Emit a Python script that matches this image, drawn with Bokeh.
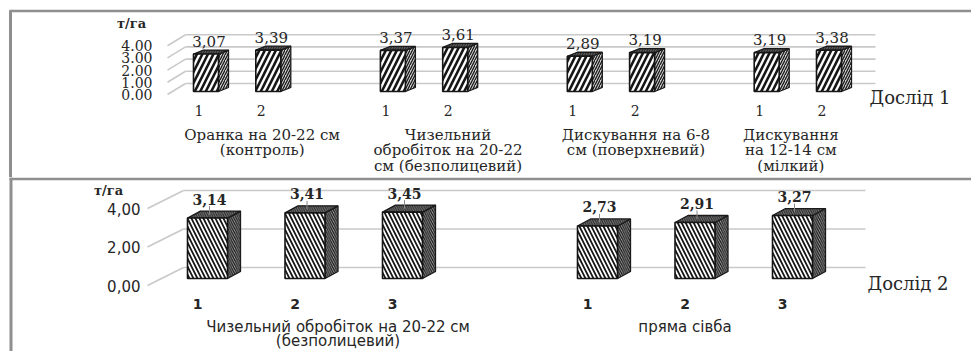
from bokeh.plotting import figure
from bokeh.layouts import column
from bokeh.models import Range1d
from bokeh.core.properties import value
from bokeh.embed import file_html
from bokeh.resources import INLINE

# ---------------- data ----------------
top_unit = "т/га"
top_categories = ["Оранка на 20-22 см\n(контроль)",
                  "Чизельний\nобробіток на 20-22\nсм (безполицевий)",
                  "Дискування на 6-8\nсм (поверхневий)",
                  "Дискування\nна 12-14 см\n(мілкий)"]
top_variants = ["1", "2"]
top_values = [3.07, 3.39, 3.37, 3.61, 2.89, 3.19, 3.19, 3.38]
top_ticks = [0, 1, 2, 3, 4]
top_tick_labels = ["0.00", "1.00", "2.00", "3.00", "4.00"]
top_series_name = "Дослід 1"

bot_unit = "т/га"
bot_categories = ["Чизельний обробіток на 20-22 см\n(безполицевий)", "пряма сівба"]
bot_variants = ["1", "2", "3"]
bot_values = [3.14, 3.41, 3.45, 2.73, 2.91, 3.27]
bot_ticks = [0, 2, 4]
bot_tick_labels = ["0,00", "2,00", "4,00"]
bot_series_name = "Дослід 2"

# ---------------- layout helpers ----------------
W = 971
BORDER = "#8f8f8f"
GRID = "#c9c9c9"
TXT = "#262626"


def fmt(v):
    return f"{v:.2f}".replace(".", ",")


class Panel:
    def __init__(self, H, x0, slot, base, unit):
        self.H, self.x0, self.slot, self.base, self.unit = H, x0, slot, base, unit
        self.p = figure(width=W, height=H,
                        x_range=Range1d(-x0 / slot, (W - x0) / slot),
                        y_range=Range1d(-(H - base) / unit, base / unit),
                        output_backend="svg", toolbar_location=None,
                        x_axis_location=None, y_axis_location=None,
                        min_border=0, title=None,
                        background_fill_color="white", border_fill_color="white",
                        outline_line_color=None)
        self.p.grid.visible = False

    def X(self, px):
        return (px - self.x0) / self.slot

    def Y(self, py):
        return (self.base - py) / self.unit

    def dx(self, px):
        return px / self.slot

    def dy(self, px):
        return px / self.unit


def draw(pn, positions, vals, ticks, tick_labels, variants, categories, ngroup,
         g_off, cfg):
    p = pn.p
    # back wall gridlines + diagonal floor lines
    back = [t + pn.dy(cfg["back_dy"]) for t in ticks]
    p.segment(x0=[pn.X(cfg["grid_x0"])] * len(back), x1=[pn.X(cfg["grid_x1"])] * len(back),
              y0=back, y1=back, line_color=GRID, line_width=1.6)
    lab_y = [b - pn.dy(cfg["diag_dy"]) for b in back]
    p.segment(x0=[pn.X(cfg["diag_x0"])] * len(back), x1=[pn.X(cfg["grid_x0"])] * len(back),
              y0=lab_y, y1=back, line_color=GRID, line_width=1.6)
    p.text(x=[pn.X(cfg["tick_x"])] * len(ticks), y=lab_y, text=tick_labels,
           text_align="right", text_baseline="middle", text_color=TXT,
           text_font=value(cfg["tick_font"]), text_font_size=cfg["tick_size"],
           text_font_style=cfg["tick_style"])
    p.text(x=[pn.X(cfg["unit_x"])], y=[pn.Y(cfg["unit_y"])], text=[cfg["unit"]],
           text_align="center", text_baseline="middle", text_color=TXT,
           text_font=value(cfg["unit_font"]), text_font_size=cfg["unit_size"],
           text_font_style="bold")

    # 3D bars
    w = pn.dx(cfg["bar_w"])
    ddx, ddy = pn.dx(cfg["depth_dx"]), pn.dy(cfg["depth_dy"])
    L = [x - w / 2 for x in positions]
    R = [x + w / 2 for x in positions]
    p.patches(xs=[[r, r + ddx, r + ddx, r] for r in R],
              ys=[[0, ddy, v + ddy, v] for v in vals],
              fill_color=cfg["side_fill"], hatch_pattern=cfg["side_hatch"],
              hatch_color="#1a1a1a", hatch_scale=cfg["side_hs"], hatch_weight=cfg["side_hw"],
              line_color="#1a1a1a", line_width=1.3)
    p.patches(xs=[[l, l + ddx, r + ddx, r] for l, r in zip(L, R)],
              ys=[[v, v + ddy, v + ddy, v] for v in vals],
              fill_color=cfg["top_fill"], hatch_pattern=cfg["side_hatch"],
              hatch_color="#222222", hatch_scale=cfg["side_hs"], hatch_weight=1,
              line_color="#1a1a1a", line_width=1.3)
    p.quad(left=L, right=R, bottom=0, top=vals, fill_color="white",
           hatch_pattern=cfg["front_hatch"], hatch_color="#161616",
           hatch_scale=cfg["front_hs"], hatch_weight=cfg["front_hw"],
           line_color="#161616", line_width=1.6)

    # value labels
    vx = [x + pn.dx(cfg["val_dx"]) for x in positions]
    if cfg.get("leader"):
        p.segment(x0=vx, x1=vx, y0=[v + ddy * 0.5 for v in vals],
                  y1=[v + pn.dy(cfg["val_dy"] - 7) for v in vals],
                  line_color="#8a8a8a", line_width=1)
    p.text(x=vx, y=[v + pn.dy(cfg["val_dy"]) for v in vals], text=[fmt(v) for v in vals],
           text_align="center", text_baseline="middle", text_color=TXT,
           text_font=value(cfg["val_font"]), text_font_size=cfg["val_size"],
           text_font_style=cfg["val_style"])

    # variant numbers
    nv = len(variants)
    p.text(x=[x + pn.dx(cfg["var_dx"]) for x in positions], y=[pn.Y(cfg["var_y"])] * len(positions),
           text=variants * ngroup, text_align="center", text_baseline="middle", text_color=TXT,
           text_font=value(cfg["var_font"]), text_font_size=cfg["var_size"],
           text_font_style=cfg["var_style"])

    # group (category) labels
    centers = [sum(positions[g * nv:(g + 1) * nv]) / nv for g in range(ngroup)]
    p.text(x=[c + pn.dx(o) for c, o in zip(centers, g_off)], y=[pn.Y(cfg["grp_y"])] * ngroup,
           text=categories, text_align="center", text_baseline="top", text_color=TXT,
           text_font=value(cfg["grp_font"]), text_font_size=cfg["grp_size"],
           text_line_height=cfg["grp_lh"])

    # series name
    p.text(x=[pn.X(cfg["name_x"])], y=[pn.Y(cfg["name_y"])], text=[cfg["name"]],
           text_align="left", text_baseline="middle", text_color=TXT,
           text_font=value("DejaVu Serif"), text_font_size="18px")


# ---------------- top panel ----------------
top = Panel(H=177, x0=205.5, slot=62.3, base=91, unit=12.2)
top_pos = [3 * g + j for g in range(len(top_categories)) for j in range(len(top_variants))]
draw(top, top_pos, top_values, top_ticks, top_tick_labels, top_variants, top_categories,
     len(top_categories), [25, 24, 25, -7],
     dict(back_dy=8, grid_x0=185, grid_x1=875, diag_x0=167, diag_dy=11, tick_x=152,
          tick_font="DejaVu Serif", tick_size="14px", tick_style="normal",
          unit=top_unit, unit_x=131, unit_y=23, unit_font="DejaVu Serif", unit_size="13px",
          bar_w=25, depth_dx=10, depth_dy=4,
          side_fill="#d0d0d0", side_hatch="/", side_hs=5, side_hw=1.3, top_fill="#5a5a5a",
          front_hatch="/", front_hs=11, front_hw=2.6,
          val_dx=3, val_dy=13, val_font="DejaVu Serif", val_size="15px", val_style="normal",
          var_dx=-7, var_y=110, var_font="DejaVu Serif", var_size="14px", var_style="normal",
          grp_y=125, grp_font="DejaVu Serif", grp_size="15px", grp_lh=0.88,
          name=top_series_name, name_x=869, name_y=97))
tp = top.p
tp.segment(x0=[top.X(10)], x1=[top.X(10)], y0=[top.Y(10)], y1=[top.Y(177)], line_color=BORDER, line_width=3)
tp.segment(x0=[top.X(9)], x1=[top.X(971)], y0=[top.Y(10.5)], y1=[top.Y(10.5)], line_color=BORDER, line_width=2.6)

# ---------------- bottom panel ----------------
bot = Panel(H=174, x0=207, slot=97.5, base=101, unit=19.25)
bot_pos = [4 * g + j for g in range(len(bot_categories)) for j in range(len(bot_variants))]
draw(bot, bot_pos, bot_values, bot_ticks, bot_tick_labels, bot_variants, bot_categories,
     len(bot_categories), [33, -10],
     dict(back_dy=11, grid_x0=183, grid_x1=865, diag_x0=147, diag_dy=18, tick_x=140,
          tick_font="DejaVu Sans", tick_size="15px", tick_style="normal",
          unit=bot_unit, unit_x=108, unit_y=13, unit_font="DejaVu Serif", unit_size="13px",
          bar_w=40, depth_dx=13, depth_dy=7,
          side_fill="#b0b0b0", side_hatch="\\", side_hs=4.5, side_hw=1.3, top_fill="#7a7a7a",
          front_hatch="\\", front_hs=8, front_hw=1.8,
          val_dx=2, val_dy=19, val_font="DejaVu Serif", val_size="14px", val_style="bold",
          leader=True,
          var_dx=-10, var_y=126, var_font="DejaVu Sans", var_size="14px", var_style="bold",
          grp_y=140, grp_font="DejaVu Sans", grp_size="15px", grp_lh=0.8,
          name=bot_series_name, name_x=867, name_y=106))
bp = bot.p
bp.segment(x0=[bot.X(9)], x1=[bot.X(971)], y0=[bot.Y(1.3)], y1=[bot.Y(1.3)], line_color=BORDER, line_width=2.8)
bp.segment(x0=[bot.X(10.5)], x1=[bot.X(10.5)], y0=[bot.Y(0)], y1=[bot.Y(174)], line_color=BORDER, line_width=3)

layout = column(tp, bp, spacing=0)
open("out.html", "w").write(file_html(layout, INLINE))
